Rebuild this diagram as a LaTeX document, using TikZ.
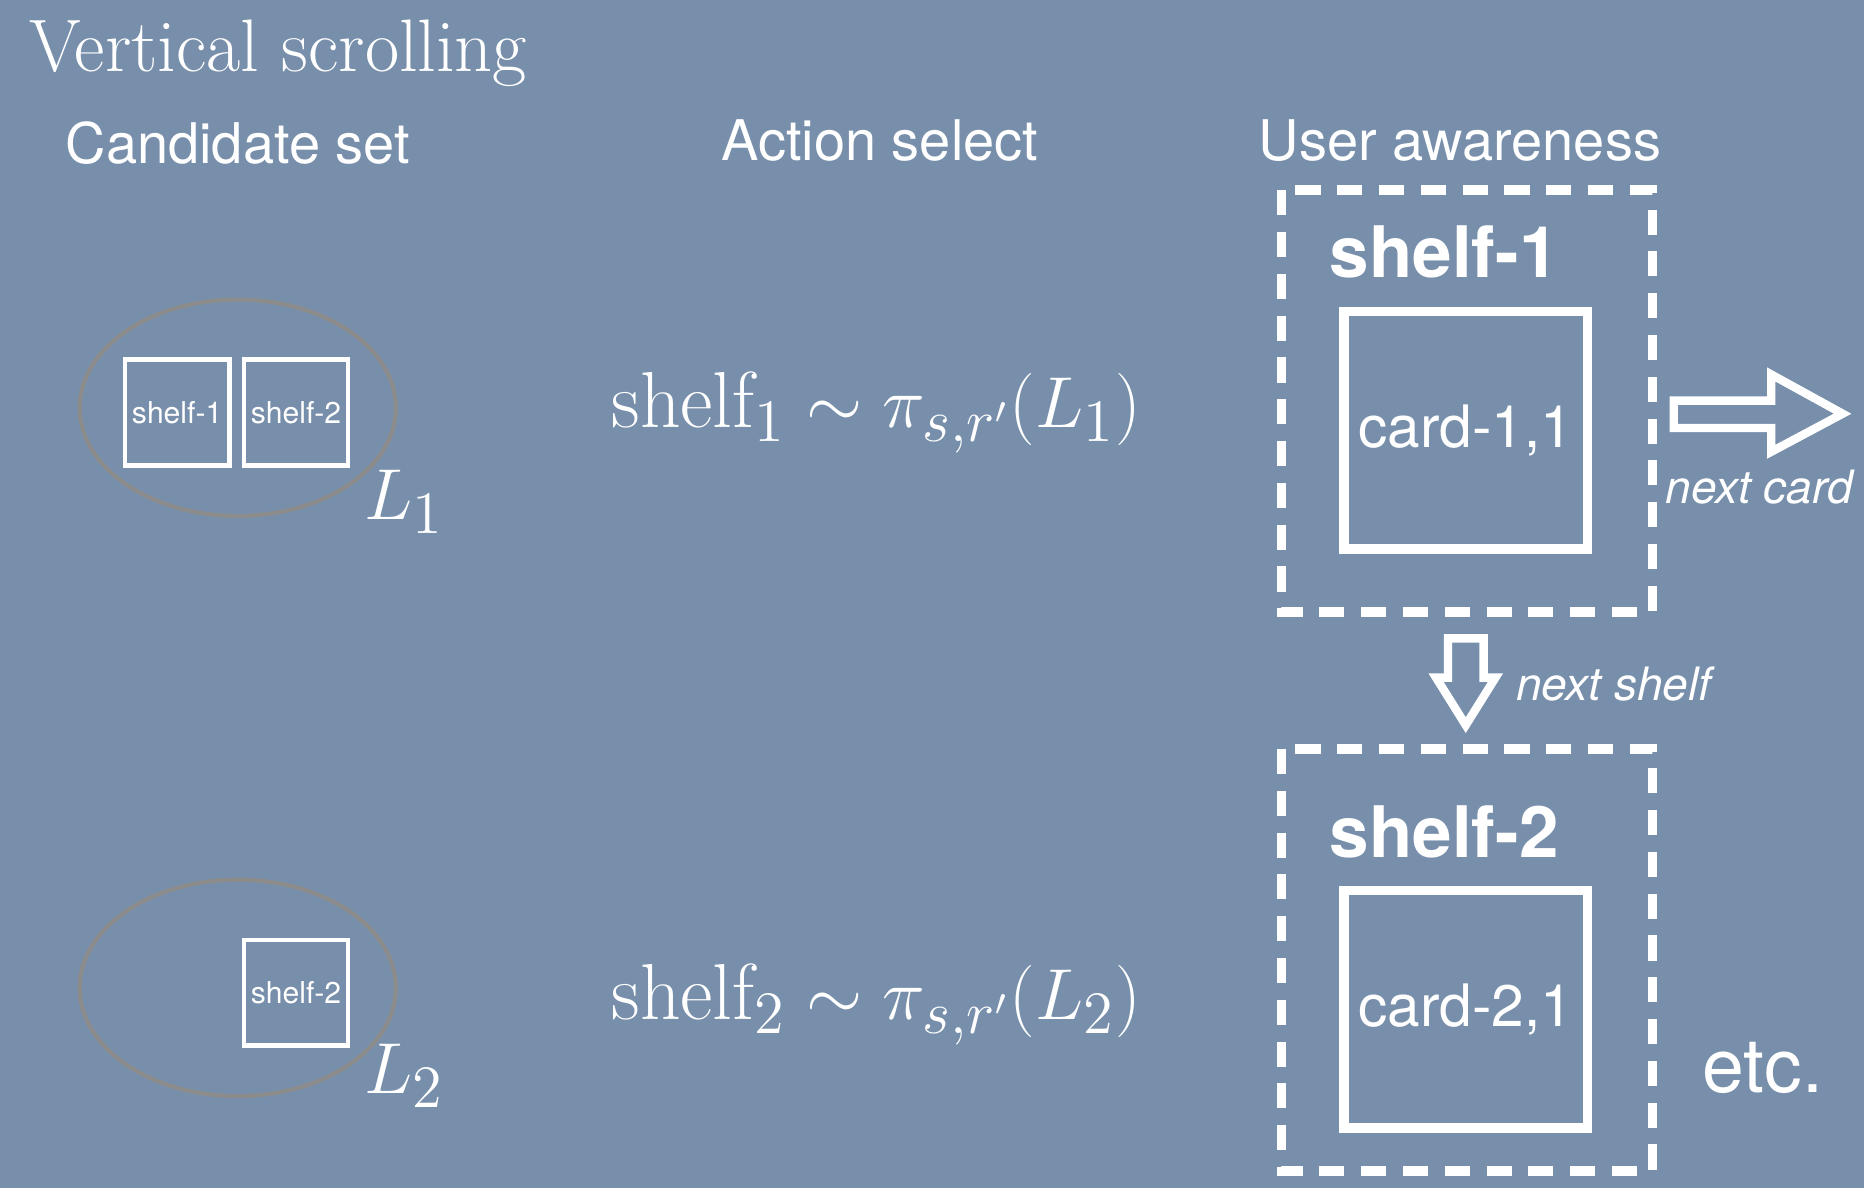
\documentclass[tikz,border=0pt]{standalone}
\usepackage{fontspec}
\newfontfamily\hv{TeX Gyre Heros}
\definecolor{bg}{HTML}{788FAB}
\definecolor{ell}{HTML}{8C8C8C}
\begin{document}
\begin{tikzpicture}[x=0.01cm,y=-0.01cm,
  sbox/.style={draw=white,line width=1pt,minimum width=0.88cm,minimum height=0.89cm,inner sep=0pt,text=white,font=\hv\fontsize{7.2}{8}\selectfont},
  card/.style={draw=white,line width=2.3pt,minimum width=2.05cm,minimum height=2.0cm,inner sep=0pt,text=white,font=\hv\fontsize{14}{15}\selectfont},
  dbox/.style={draw=white,line width=2.3pt,dash pattern=on 6pt off 4pt},
  head/.style={text=white,font=\hv\fontsize{13.4}{15}\selectfont},
  lab/.style={text=white,font=\hv\itshape\fontsize{11}{12}\selectfont},
  mth/.style={text=white,font=\fontsize{19}{21}\selectfont},
  ellip/.style={draw=ell,line width=1pt}]
\fill[bg] (0,0) rectangle (1568,999);
\useasboundingbox (0,0) rectangle (1568,999);
\node[text=white,anchor=west,font=\fontsize{17.8}{20}\selectfont] (title) at (12,45) {Vertical scrolling};
\node[head] (h1) at (200,120) {Candidate set};
\node[head] (h2) at (740,118) {Action select};
\node[head] (h3) at (1228,118) {User awareness};
% left
\draw[ellip] (200,343) ellipse [x radius=133, y radius=91];
\node[sbox] (s11) at (149,347) {shelf-1};
\node[sbox] (s12) at (249,347) {shelf-2};
\node[mth] (l1) at (340,422) {$L_1$};
\draw[ellip] (200,831) ellipse [x radius=133, y radius=91];
\node[sbox] (s22) at (249,835) {shelf-2};
\node[mth] (l2) at (340,905) {$L_2$};
% middle
\node[mth] (m1) at (737,347) {$\mathrm{shelf}_1\sim\pi_{s,r'}(L_1)$};
\node[mth] (m2) at (737,845) {$\mathrm{shelf}_2\sim\pi_{s,r'}(L_2)$};
% right
\draw[dbox] (1078,160) rectangle (1390,515);
\node[text=white,font=\hv\bfseries\fontsize{17}{19}\selectfont,anchor=west] (sh1) at (1106,212) {shelf-1};
\node[card] (c1) at (1233,362) {card-1,1};
\draw[dbox] (1078,630) rectangle (1390,985);
\node[text=white,font=\hv\bfseries\fontsize{17}{19}\selectfont,anchor=west] (sh2) at (1106,700) {shelf-2};
\node[card] (c2) at (1233,849) {card-2,1};
\draw[white,line width=2pt,line join=miter] (1408,337) -- (1490,337) -- (1490,315) -- (1550,348) -- (1490,380) -- (1490,360) -- (1408,360) -- cycle;
\node[lab] (nc) at (1480,410) {next card};
\draw[white,line width=2pt,line join=miter] (1218,537) -- (1248,537) -- (1248,570) -- (1258,570) -- (1233,610) -- (1208,570) -- (1218,570) -- cycle;
\node[lab,anchor=west] (ns) at (1263,575) {next shelf};
\node[text=white,font=\hv\fontsize{18}{20}\selectfont] (etc) at (1483,898) {etc.};
\end{tikzpicture}
\end{document}
